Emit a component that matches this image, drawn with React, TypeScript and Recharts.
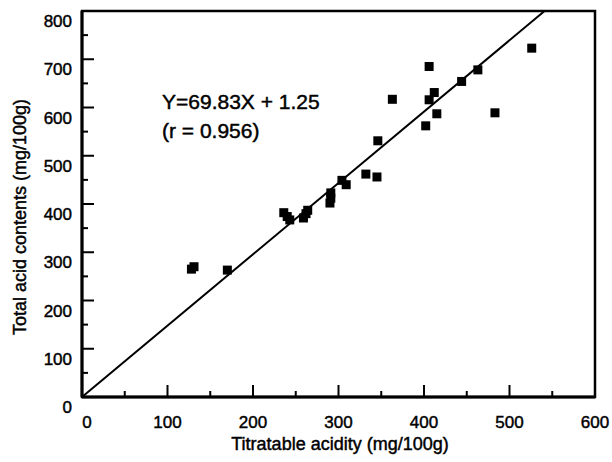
import { ScatterChart, Scatter, XAxis, YAxis, ReferenceLine, ReferenceArea } from "recharts";

const TITRATABLE = [128, 131, 170, 236, 240, 243, 259, 262, 264, 290, 291, 291, 304, 309, 332, 345, 346, 363, 402, 406, 406, 412, 415, 444, 463, 483, 526];
const TOTAL_ACID = [265, 270, 263, 382, 374, 367, 371, 380, 387, 402, 412, 423, 449, 440, 462, 456, 531, 617, 562, 616, 685, 631, 587, 654, 678, 589, 723];

const X_TICKS = [0, 50, 100, 150, 200, 250, 300, 350, 400, 450, 500, 550, 600];
const Y_TICKS = [0, 50, 100, 150, 200, 250, 300, 350, 400, 450, 500, 550, 600, 650, 700, 750, 800];

// fitted line end points (as drawn in the figure)
const FIT_X = [0, 541];
const FIT_Y = [0, 800];

const FONT = "'Liberation Sans', Arial, sans-serif";
// scanned figure text looks a bit heavy
const INK = { fill: "#000", stroke: "#000", strokeWidth: 0.45 };

const points = TITRATABLE.map((x, i) => ({ x, y: TOTAL_ACID[i] }));

function XTick({ x, y, payload }: any) {
  const major = payload.value % 100 === 0;
  return (
    <g>
      <line x1={x} y1={y} x2={x} y2={y - (major ? 12 : 6)} stroke="#000" strokeWidth={2} />
      {major && (
        <text x={x + (payload.value === 0 ? 5 : 0)} y={y + 31} textAnchor="middle" fontSize={17} fontFamily={FONT} {...INK}>
          {payload.value}
        </text>
      )}
    </g>
  );
}

function YTick({ x, y, payload }: any) {
  const major = payload.value % 100 === 0;
  return (
    <g>
      <line x1={x} y1={y} x2={x + (major ? 12 : 6)} y2={y} stroke="#000" strokeWidth={2} />
      {major && (
        <text x={x - 10} y={y + 16} textAnchor="end" fontSize={17} fontFamily={FONT} {...INK}>
          {payload.value}
        </text>
      )}
    </g>
  );
}

const Square = (p: any) => <rect x={p.cx - 4.5} y={p.cy - 4.5} width={9} height={9} fill="#000" />;

export default function App() {
  return (
    <div style={{ position: "absolute", left: 0, top: 0, width: 612, height: 462, background: "#fff" }}>
      <ScatterChart width={612} height={462} margin={{ top: 11, right: 17, left: 0, bottom: 0 }}>
        <XAxis
          type="number" dataKey="x" domain={[0, 600]} ticks={X_TICKS} interval={0}
          height={65} tickSize={0} tickMargin={0} tick={<XTick />} tickLine={false}
          axisLine={{ stroke: "#000", strokeWidth: 3 }}
          label={{
            content: () => (
              <text x={340} y={450} textAnchor="middle" fontSize={18} fontFamily={FONT} {...INK}>
                Titratable acidity (mg/100g)
              </text>
            ),
          }}
        />
        <YAxis
          type="number" dataKey="y" domain={[0, 800]} ticks={Y_TICKS} interval={0}
          width={82} tickSize={0} tickMargin={0} tick={<YTick />} tickLine={false}
          axisLine={{ stroke: "#000", strokeWidth: 3 }}
          label={{
            content: () => (
              <text x={26} y={217} transform="rotate(-90 26 217)" textAnchor="middle" fontSize={18} fontFamily={FONT} {...INK}>
                Total acid contents (mg/100g)
              </text>
            ),
          }}
        />
        <ReferenceArea x1={0} x2={600} y1={0} y2={800} fill="none" stroke="#000" strokeWidth={2.5} ifOverflow="visible" />
        <ReferenceLine
          segment={[{ x: FIT_X[0], y: FIT_Y[0] }, { x: FIT_X[1], y: FIT_Y[1] }]}
          stroke="#000" strokeWidth={2} ifOverflow="visible"
          label={{
            content: () => (
              <g fontFamily={FONT} fontSize={21} {...INK}>
                <text x={162} y={109}>Y=69.83X + 1.25</text>
                <text x={162} y={138}>(r = 0.956)</text>
              </g>
            ),
          }}
        />
        <Scatter data={points} shape={Square} isAnimationActive={false} />
      </ScatterChart>
    </div>
  );
}
